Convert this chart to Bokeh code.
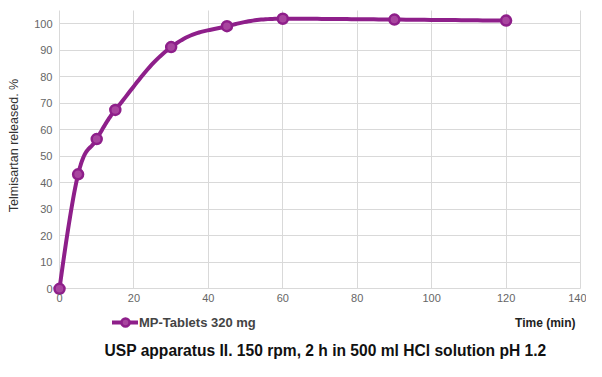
import math
from bokeh.plotting import figure
from bokeh.models import Range1d, FixedTicker, Legend, LegendItem, Label, LinearAxis
from bokeh.embed import file_html
from bokeh.resources import INLINE

# Data
time_min = [0, 5, 10, 15, 30, 45, 60, 90, 120]
released = [0, 43.2, 56.5, 67.5, 91.2, 99.1, 101.9, 101.6, 101.2]
x_ticks = [0, 20, 40, 60, 80, 100, 120, 140]
y_ticks = [0, 10, 20, 30, 40, 50, 60, 70, 80, 90, 100]
series_name = "MP-Tablets 320 mg"
x_title = "Time (min)"
y_title = "Telmisartan released. %"
chart_title = "USP apparatus II. 150 rpm, 2 h in 500 ml HCl solution pH 1.2"

PURPLE = "#8e1f8a"
FONT = "Liberation Sans"


def spline(xs, ys, steps=24):
    """Highcharts-style smoothing spline through the data points."""
    sm = 1.5
    den = sm + 1
    n = len(xs)
    rc = [None] * n
    segs_x, segs_y = [xs[0]], [ys[0]]
    for i in range(1, n):
        px, py = xs[i], ys[i]
        lx, ly = xs[i - 1], ys[i - 1]
        lcx, lcy = px, py
        if i < n - 1:
            nx, ny = xs[i + 1], ys[i + 1]
            lcx = (sm * px + lx) / den
            lcy = (sm * py + ly) / den
            rcx = (sm * px + nx) / den
            rcy = (sm * py + ny) / den
            corr = 0
            if rcx != lcx:
                corr = (rcy - lcy) * (rcx - px) / (rcx - lcx) + py - rcy
            lcy += corr
            rcy += corr
            if lcy > ly and lcy > py:
                lcy = max(ly, py); rcy = 2 * py - lcy
            elif lcy < ly and lcy < py:
                lcy = min(ly, py); rcy = 2 * py - lcy
            if rcy > ny and rcy > py:
                rcy = max(ny, py); lcy = 2 * py - rcy
            elif rcy < ny and rcy < py:
                rcy = min(ny, py); lcy = 2 * py - rcy
            rc[i] = (rcx, rcy)
        c1 = rc[i - 1] if rc[i - 1] is not None else (lx, ly)
        c2 = (lcx, lcy)
        for k in range(1, steps + 1):
            t = k / steps
            a = (1 - t) ** 3; b = 3 * (1 - t) ** 2 * t; c = 3 * (1 - t) * t ** 2; d = t ** 3
            segs_x.append(a * lx + b * c1[0] + c * c2[0] + d * px)
            segs_y.append(a * ly + b * c1[1] + c * c2[1] + d * py)
    return segs_x, segs_y


sx, sy = spline(time_min, released)

p = figure(width=586, height=361, output_backend="svg", toolbar_location=None,
           x_range=Range1d(-15.854, 141.61), y_range=Range1d(-27.43, 108.79),
           x_axis_location=None, y_axis_location=None,
           min_border_left=0, min_border_right=0, min_border_top=0, min_border_bottom=0)
p.outline_line_color = None
p.background_fill_color = "white"
p.border_fill_color = "white"

xaxis = LinearAxis(fixed_location=0, ticker=FixedTicker(ticks=x_ticks))
yaxis = LinearAxis(fixed_location=0, ticker=FixedTicker(ticks=y_ticks))
for ax in (xaxis, yaxis):
    ax.axis_line_color = None
    ax.major_tick_line_color = None
    ax.minor_tick_line_color = None
    ax.major_tick_out = 0
    ax.major_tick_in = 0
    ax.minor_tick_out = 0
    ax.minor_tick_in = 0
    ax.major_label_text_color = "#666666"
    ax.major_label_text_font = FONT
    ax.major_label_text_font_size = "11px"
xaxis.major_label_standoff = 5
yaxis.major_label_standoff = 7
p.add_layout(xaxis, "below")
p.add_layout(yaxis, "left")

p.xgrid[0].ticker = FixedTicker(ticks=x_ticks)
p.ygrid[0].ticker = FixedTicker(ticks=y_ticks)
for g in (p.xgrid[0], p.ygrid[0]):
    g.grid_line_color = "#d9d9d9"
    g.grid_line_width = 1
p.xgrid[0].cross_bounds = (0, 105)
p.ygrid[0].cross_bounds = (0, 140)

ln = p.line(sx, sy, line_color=PURPLE, line_width=4, line_cap="round", line_join="round")
sc = p.scatter(time_min, released, size=10, marker="circle", line_color=PURPLE,
               line_width=2.5, fill_color="#a8459f")

legend = Legend(items=[LegendItem(label=series_name, renderers=[ln, sc])],
                location=(112, 29), orientation="horizontal",
                padding=0, margin=0, border_line_color=None, background_fill_alpha=0,
                label_text_font=FONT, label_text_font_style="bold",
                label_text_font_size="13px", label_text_color="#444444",
                glyph_width=26, glyph_height=20, label_standoff=1)
p.add_layout(legend, "center")

p.add_layout(Label(x=-12.36, y=54.08, text=y_title, angle=math.pi / 2,
                   text_align="center", text_baseline="middle",
                   text_font=FONT, text_font_size="12.5px", text_color="#333333"))
p.add_layout(Label(x=138.66, y=-12.72, text=x_title, text_align="right", text_baseline="middle",
                   text_font=FONT, text_font_style="bold", text_font_size="12px",
                   text_color="#222222"))
p.add_layout(Label(x=71.48, y=-23.4, text=chart_title, text_align="center", text_baseline="middle",
                   text_font=FONT, text_font_style="bold", text_font_size="15.6px",
                   text_color="#111111"))

open("out.html", "w").write(file_html(p, INLINE))
